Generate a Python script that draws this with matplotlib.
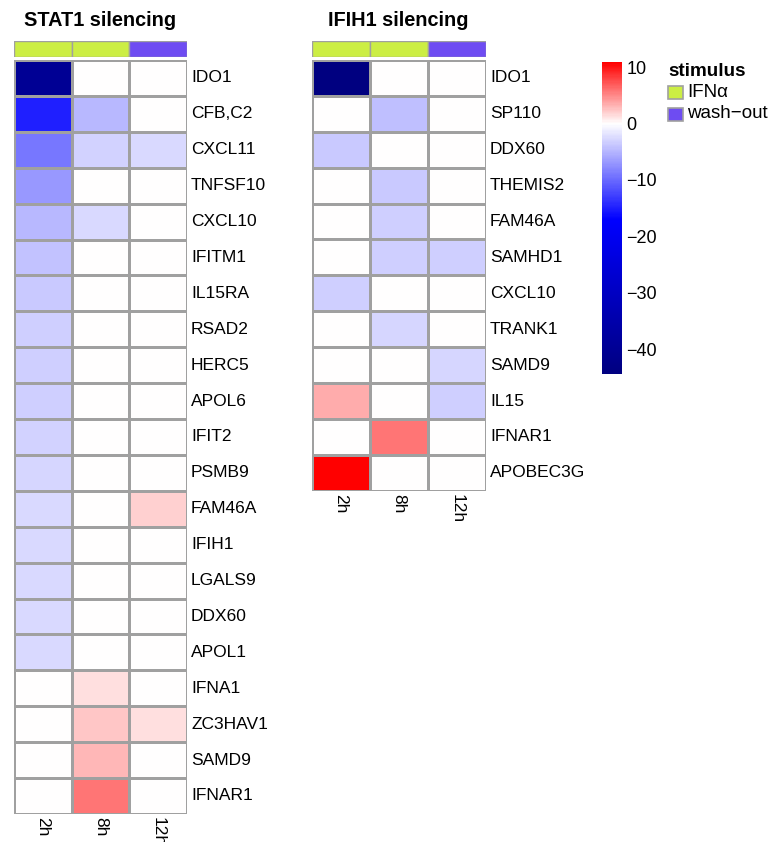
import numpy as np
import matplotlib
matplotlib.use("Agg")
import matplotlib.pyplot as plt
from matplotlib.colors import LinearSegmentedColormap, Normalize
from matplotlib.cm import ScalarMappable

plt.rcParams['font.family'] = ['Liberation Sans', 'DejaVu Sans']

times = ['2h', '8h', '12h']
stimulus = ['IFNα', 'IFNα', 'wash−out']
stim_colors = {'IFNα': '#CCEE44', 'wash−out': '#6E4CF2'}

stat1_genes = ['IDO1', 'CFB,C2', 'CXCL11', 'TNFSF10', 'CXCL10', 'IFITM1', 'IL15RA',
               'RSAD2', 'HERC5', 'APOL6', 'IFIT2', 'PSMB9', 'FAM46A', 'IFIH1',
               'LGALS9', 'DDX60', 'APOL1', 'IFNA1', 'ZC3HAV1', 'SAMD9', 'IFNAR1']
stat1_2h = [-40, -15, -9, -6.9, -4.8, -4.1, -3.7, -3.2, -3.2, -3.2, -3.1, -2.8, -2.7,
            -2.7, -2.7, -2.7, -2.6, 0, 0, 0, 0]
stat1_8h = [0, -4.7, -3.0, 0, -2.5, 0, 0, 0, 0, 0, 0, 0, 0,
            0, 0, 0, 0, 1.2, 2.4, 3.0, 5.8]
stat1_12h = [0, 0, -2.6, 0, 0, 0, 0, 0, 0, 0, 0, 0, 2.0,
             0, 0, 0, 0, 0, 1.3, 0, 0]

ifih1_genes = ['IDO1', 'SP110', 'DDX60', 'THEMIS2', 'FAM46A', 'SAMHD1', 'CXCL10',
               'TRANK1', 'SAMD9', 'IL15', 'IFNAR1', 'APOBEC3G']
ifih1_2h = [-44.4, 0, -3.7, 0, 0, 0, -3.3, 0, 0, 3.4, 0, 10.9]
ifih1_8h = [0, -4.3, 0, -3.7, -3.3, -3.3, 0, -2.8, 0, 0, 5.8, 0]
ifih1_12h = [0, 0, 0, 0, 0, -3.3, 0, 0, -2.8, -3.2, 0, 0]

vmin, vmax = -44.4, 10.9
cbar_ticks = [10, 0, -10, -20, -30, -40]

def frac(v):
    return (v - vmin) / (vmax - vmin)

cmap = LinearSegmentedColormap.from_list(
    'nbwr', [(0, 'navy'), (frac(-17), 'blue'), (frac(0), 'white'), (1, 'red')])
norm = Normalize(vmin, vmax)

W, H = 774, 842
fig = plt.figure(figsize=(W / 100, H / 100), dpi=100)

def px_axes(x0, y0, x1, y1):
    return fig.add_axes([x0 / W, 1 - y1 / H, (x1 - x0) / W, (y1 - y0) / H])

grid_col = '#A0A0A0'
fs = 12.5
row_h = 35.9

def draw_heatmap(x0, x1, genes, cols, title):
    # annotation bar
    ann = px_axes(x0, 41, x1, 57)
    for j, s in enumerate(stimulus):
        ann.add_patch(plt.Rectangle((j, 0), 1, 1, facecolor=stim_colors[s],
                                    edgecolor=grid_col, linewidth=1))
    ann.set_xlim(0, 3)
    ann.set_ylim(0, 1)
    ann.axis('off')

    n = len(genes)
    y1 = 60 + row_h * n
    ax = px_axes(x0, 60, x1, y1)
    data = np.array(cols).T
    ax.pcolormesh(data, cmap=cmap, norm=norm, edgecolors=grid_col, linewidth=1)
    ax.set_xlim(0, 3)
    ax.set_ylim(n, 0)
    ax.axis('off')
    for i, g in enumerate(genes):
        ax.text(3.07, i + 0.5, g, ha='left', va='center', fontsize=fs)
    for j, t in enumerate(times):
        ax.text(j + 0.5, n + 0.08, t, rotation=270, ha='center', va='top', fontsize=fs)
    fig.text((x0 + x1) / 2 / W, 1 - 21 / H, title, ha='center', va='center',
             fontsize=14.3, fontweight='bold')

draw_heatmap(14, 187, stat1_genes, [stat1_2h, stat1_8h, stat1_12h], 'STAT1 silencing')
draw_heatmap(311.5, 486, ifih1_genes, [ifih1_2h, ifih1_8h, ifih1_12h], 'IFIH1 silencing')

# colorbar
cax = px_axes(602, 62, 622, 374)
cb = fig.colorbar(ScalarMappable(norm=norm, cmap=cmap), cax=cax)
cb.outline.set_visible(False)
cb.set_ticks(cbar_ticks)
cb.set_ticklabels([str(t).replace('-', '−') for t in cbar_ticks])
cax.tick_params(length=0, pad=3, labelsize=13)

# legend
fig.text(668 / W, 1 - 71 / H, 'stimulus', ha='left', va='center',
         fontsize=13.6, fontweight='bold')
leg = px_axes(660, 80, 774, 130)
leg.set_xlim(660, 774)
leg.set_ylim(130, 80)
leg.axis('off')
for k, s in enumerate(['IFNα', 'wash−out']):
    yt = 86 + 21.5 * k
    leg.add_patch(plt.Rectangle((668, yt), 15, 13, facecolor=stim_colors[s],
                                edgecolor=grid_col, linewidth=1.2))
    leg.text(687, yt + 6.5, s, ha='left', va='center', fontsize=13.5)

fig.savefig('out.png', dpi=100)
